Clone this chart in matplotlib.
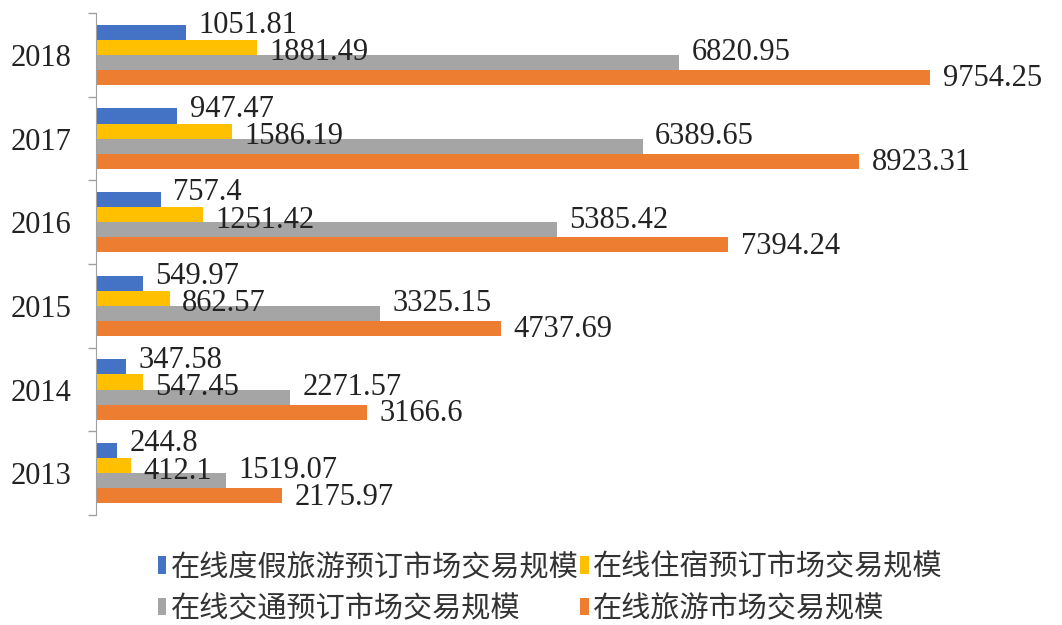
import numpy as np
import matplotlib
matplotlib.use("Agg")
import matplotlib.pyplot as plt

plt.rcParams['font.family'] = ['Noto Sans CJK SC', 'DejaVu Sans']

# data (亿元)
years = ["2013", "2014", "2015", "2016", "2017", "2018"]
vacation = [244.8, 347.58, 549.97, 757.4, 947.47, 1051.81]
lodging = [412.1, 547.45, 862.57, 1251.42, 1586.19, 1881.49]
transport = [1519.07, 2271.57, 3325.15, 5385.42, 6389.65, 6820.95]
total = [2175.97, 3166.6, 4737.69, 7394.24, 8923.31, 9754.25]
names = ["在线度假旅游预订市场交易规模", "在线住宿预订市场交易规模",
         "在线交通预订市场交易规模", "在线旅游市场交易规模"]
colors = ["#4472C4", "#FFC000", "#A5A5A5", "#ED7D31"]

fig = plt.figure(figsize=(10.62, 6.25), dpi=100)
ax = fig.add_axes([0.0904, 0.176, 0.898, 0.803])

y = np.arange(len(years))
h = 0.18
offsets = [1.5 * h, 0.5 * h, -0.5 * h, -1.5 * h]
# label shifts (points), labels sit staggered like in the original
lift = [5, -4, 7, -1]
series = [vacation, lodging, transport, total]

handles = []
for vals, off, c, name, dy in zip(series, offsets, colors, names, lift):
    bars = ax.barh(y + off, vals, height=h, color=c, label=name)
    handles.append(bars)
    for yy, v in zip(y + off, vals):
        ax.annotate(f"{v:g}", (v, yy), xytext=(9, dy), textcoords="offset points",
                    va="center", ha="left", fontsize=22,
                    family="Liberation Serif", color="#222222")

ax.set_xlim(0, 11150)
ax.set_ylim(-0.5, 5.5)
ax.set_xticks([])
ax.set_yticks(np.arange(-0.5, 6, 1))
ax.set_yticklabels([])
ax.set_yticks(y, minor=True)
ax.set_yticklabels(years, minor=True, family="Liberation Serif", fontsize=22, color="#222222")
ax.tick_params(axis="y", which="major", length=6, color="#A0A0A0", width=1)
ax.tick_params(axis="y", which="minor", length=0, pad=18)
for s in ["top", "right", "bottom"]:
    ax.spines[s].set_visible(False)
ax.spines["left"].set_color("#A0A0A0")

order = [0, 2, 1, 3]
fig.legend([handles[i] for i in order], [names[i] for i in order],
           loc="center", bbox_to_anchor=(0.518, 0.059), ncol=2, frameon=False,
           fontsize=21, handlelength=0.3, handleheight=0.55, handletextpad=0.15,
           columnspacing=0.05, labelspacing=0.4, labelcolor="#333333")

fig.savefig("out.png", dpi=100)
